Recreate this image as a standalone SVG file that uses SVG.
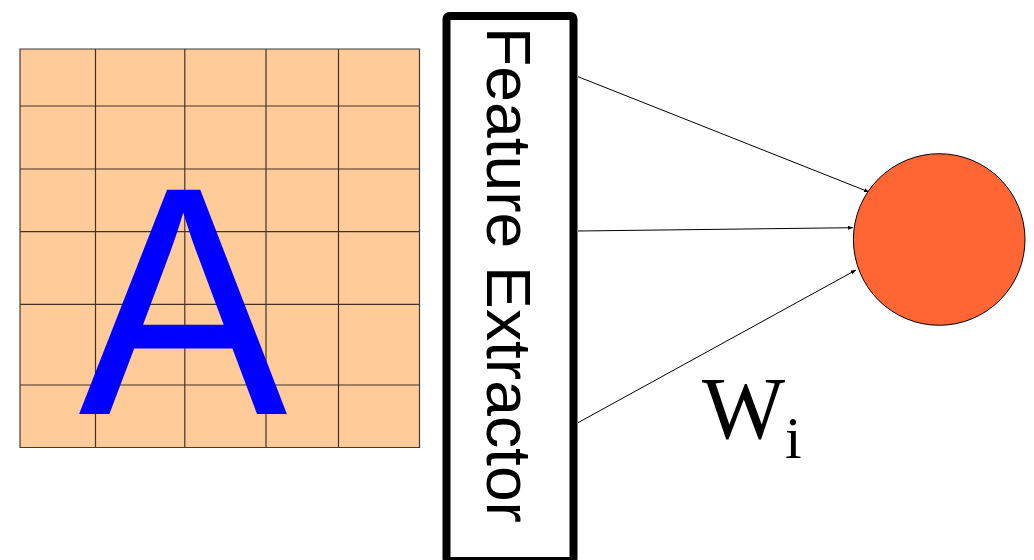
<svg xmlns="http://www.w3.org/2000/svg" width="1034" height="560" viewBox="0 0 1034 560">
<defs>
<style>
.grid{stroke:#000;stroke-opacity:0.75;stroke-width:1.2;fill:none}
.conn{stroke:#000;stroke-width:1;fill:none;marker-end:url(#ah)}
.sans{font-family:"Liberation Sans",Arial,sans-serif}
.serif{font-family:"Liberation Serif","Times New Roman",serif}
</style>
<marker id="ah" viewBox="0 0 10 10" refX="10" refY="5" markerWidth="5" markerHeight="5" orient="auto" markerUnits="userSpaceOnUse">
<path d="M0,1 L10,5 L0,9 z" fill="#000"/>
</marker>
</defs>
<rect width="1034" height="560" fill="#fff"/>
<g id="image-grid">
<rect x="20" y="49" width="399.5" height="398.5" fill="#FFCC99"/>
<path class="grid" d="M20,49 H419.5 V447.5 H20 Z M95.5,49 V447.5 M184.8,49 V447.5 M266,49 V447.5 M338.5,49 V447.5 M20,106 H419.5 M20,169 H419.5 M20,231.7 H419.5 M20,304.3 H419.5 M20,385 H419.5"/>
<text class="sans" x="183" y="414" font-size="326" fill="#0000FF" text-anchor="middle" textLength="209" lengthAdjust="spacingAndGlyphs">A</text>
</g>
<g id="feature-extractor">
<rect x="446.5" y="16" width="127" height="545" rx="3" fill="#fff" stroke="#000" stroke-width="8"/>
<text class="sans" transform="translate(487,27) rotate(90)" font-size="63" fill="#000" textLength="496" lengthAdjust="spacingAndGlyphs">Feature Extractor</text>
</g>
<g id="connectors">
<line class="conn" x1="578" y1="76.7" x2="869" y2="192"/>
<line class="conn" x1="578" y1="231" x2="853" y2="227.7"/>
<line class="conn" x1="578" y1="422.7" x2="856" y2="270"/>
</g>
<g id="neuron">
<circle cx="939.2" cy="239.5" r="85.8" fill="#FF6633" stroke="#000" stroke-width="1"/>
</g>
<g id="weight-label">
<text class="serif" x="702" y="438.3" font-size="88" fill="#000">W<tspan font-size="60" dy="20">i</tspan></text>
</g>
</svg>
